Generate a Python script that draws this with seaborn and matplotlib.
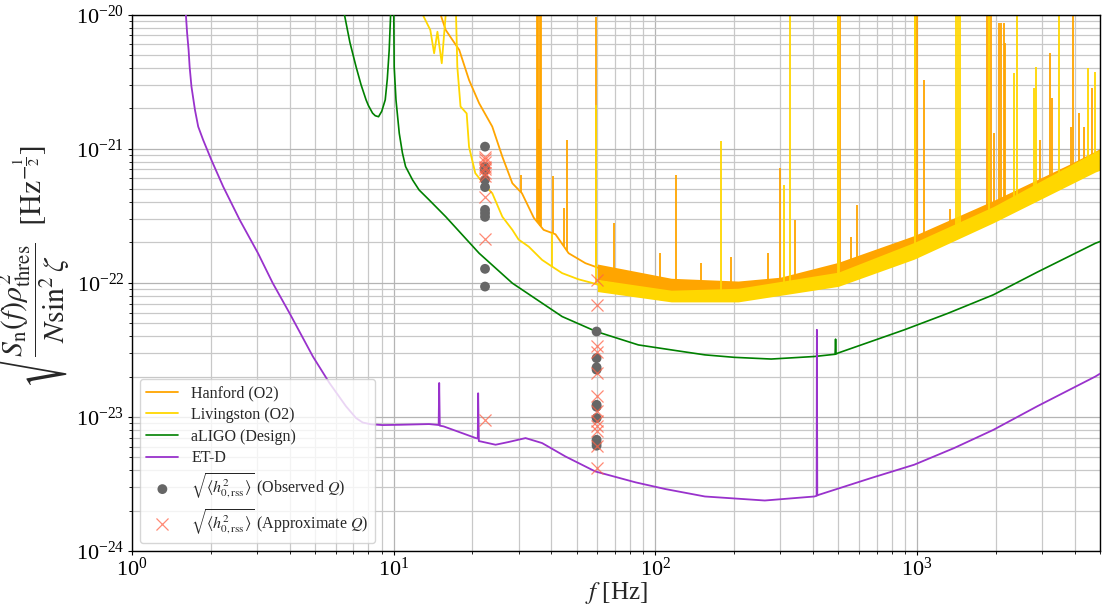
import numpy as np
import pandas as pd
import matplotlib
matplotlib.use("Agg")
import matplotlib.pyplot as plt
import seaborn as sns
from matplotlib.ticker import LogLocator, NullFormatter

# ---------------- data ----------------
# Hanford (O2)
han_f = [14.0, 15.1, 15.8, 17.8, 19.4, 21.2, 23.8, 26.0, 28.4, 30.9, 34.3, 37.4, 41.5, 46.6,
         54.0, 60.0, 68.2, 91.3, 118.9, 207, 300, 500, 975, 1955, 3845, 4800, 5000]
han_h = [2.0e-20, 1.0e-20, 7.67e-21, 5.44e-21, 3.25e-21, 2.18e-21, 1.46e-21, 8.72e-22, 5.52e-22,
         4.65e-22, 3.05e-22, 2.48e-22, 2.3e-22, 1.66e-22, 1.4e-22, 1.3e-22, 1.18e-22, 1.05e-22,
         9.7e-23, 9.4e-23, 1.01e-22, 1.29e-22, 2.06e-22, 3.78e-22, 7.07e-22, 8.7e-22, 9.0e-22]
han_band_f = [60, 115, 207, 300, 500, 975, 1955, 3845, 4800, 5000]
han_band_lo = [1.05e-22, 8.6e-23, 8.4e-23, 9.2e-23, 1.15e-22, 1.85e-22, 3.4e-22, 6.4e-22, 7.8e-22, 8.1e-22]
han_band_hi = [1.38e-22, 1.08e-22, 1.03e-22, 1.1e-22, 1.42e-22, 2.25e-22, 4.1e-22, 7.7e-22, 9.6e-22, 1.0e-21]
han_spk_f = [30.7, 35.3, 35.5, 35.9, 36.3, 36.5, 40.5, 44.6, 45.9, 59.5, 69.3, 104, 119.5, 150,
             194, 269, 299, 343, 500, 504, 508, 560, 588, 985, 995, 1059, 1337, 1855, 1885,
             1915, 1970, 2050, 2100, 2150, 2170, 2950, 3225, 3275, 3880, 3930, 4170, 4340, 4660]
han_spk_h = [6.4e-22, 2e-20, 2e-20, 1.4e-21, 2e-20, 2e-20, 6.3e-22, 3.6e-22, 1.16e-21, 9.6e-21,
             2.8e-22, 1.66e-22, 6.4e-22, 1.4e-22, 1.56e-22, 1.66e-22, 7.15e-22, 2.95e-22, 2e-20,
             2e-20, 2e-20, 2.2e-22, 3.8e-22, 2e-20, 2e-20, 3.25e-21, 3.56e-22, 2e-20, 2e-20,
             2e-20, 1.31e-21, 8.6e-21, 8.6e-21, 8.6e-21, 6.1e-21, 1.16e-21, 5.13e-21, 2.38e-21,
             1.46e-21, 2e-20, 1.85e-21, 1.46e-21, 2.83e-21]

# Livingston (O2)
liv_f = [12.5, 12.9, 13.8, 14.27, 14.69, 15.26, 15.8, 16.5, 17.3, 17.5, 18.0, 19.0, 19.4, 20.5,
         22.5, 23.8, 26.0, 28.4, 30.0, 32.8, 36.9, 40.3, 44.0, 50.9, 57.0, 68.0, 91.0, 122, 164,
         207, 300, 500, 975, 1955, 2878, 3845, 4800, 5000]
liv_h = [2.0e-20, 1.0e-20, 7.66e-21, 5.14e-21, 7.44e-21, 4.33e-21, 1.0e-20, 1.6e-20, 1.0e-20,
         4.08e-21, 2.06e-21, 1.83e-21, 1.03e-21, 6.56e-22, 5.21e-22, 4.65e-22, 3.11e-22, 2.48e-22,
         2.1e-22, 1.86e-22, 1.48e-22, 1.32e-22, 1.18e-22, 1.06e-22, 1.0e-22, 9.0e-23, 8.4e-23,
         7.9e-23, 7.8e-23, 8.1e-23, 8.5e-23, 1.06e-22, 1.73e-22, 3.2e-22, 4.9e-22, 6.4e-22,
         8.1e-22, 8.4e-22]
liv_band_f = [60, 115, 207, 500, 975, 1955, 4800, 5000]
liv_band_lo = [8.6e-23, 7.2e-23, 7.2e-23, 9.4e-23, 1.5e-22, 2.8e-22, 6.7e-22, 6.9e-22]
liv_band_hi = [1.06e-22, 8.8e-23, 9.1e-23, 1.2e-22, 2.0e-22, 3.7e-22, 9.5e-22, 9.8e-22]
liv_spk_f = [40.3, 59.5, 178, 310, 327, 500, 503, 985, 1410, 1435, 1460, 1885, 2350, 2400,
             2790, 2850, 3470, 4500, 4800]
liv_spk_h = [2.35e-22, 2.1e-21, 1.15e-21, 5.36e-22, 2e-20, 2e-20, 2e-20, 2e-20, 2e-20, 2e-20,
             2e-20, 2e-20, 3.66e-21, 2e-20, 2.83e-21, 4.08e-21, 2e-20, 3.97e-21, 3.75e-21]

# aLIGO (Design)
ali_f = [6.3, 6.48, 6.8, 7.18, 7.5, 7.84, 8.0, 8.3, 8.5, 8.75, 9.0, 9.28, 9.45, 9.61, 9.75, 9.9,
         9.96, 10.04, 10.2, 10.5, 10.8, 11.1, 11.8, 12.5, 13.65, 15.8, 21.2, 28.4, 44.0, 59.4,
         86.1, 120, 154.6, 200, 277, 405, 486, 488, 490, 498, 667, 894, 1306, 1955, 2878,
         4800, 5000]
ali_h = [1.3e-20, 1.0e-20, 6.2e-21, 4.08e-21, 3.0e-21, 2.31e-21, 2.1e-21, 1.84e-21, 1.76e-21,
         1.73e-21, 1.9e-21, 2.31e-21, 3.3e-21, 5.44e-21, 1.1e-20, 3.0e-20, 3.0e-20, 4.08e-21,
         2.31e-21, 1.3e-21, 9.25e-22, 7.35e-22, 5.85e-22, 4.92e-22, 4.15e-22, 3.11e-22,
         1.66e-22, 9.93e-23, 5.6e-23, 4.33e-23, 3.44e-23, 3.12e-23, 2.9e-23, 2.78e-23, 2.7e-23,
         2.82e-23, 2.93e-23, 3.8e-23, 2.94e-23, 2.99e-23, 3.65e-23, 4.46e-23, 5.9e-23,
         8.13e-23, 1.2e-22, 1.97e-22, 2.03e-22]

# ET-D
etd_f = [1.55, 1.606, 1.624, 1.645, 1.66, 1.687, 1.74, 1.79, 1.87, 2.01, 2.23, 2.58, 3.03, 3.45,
         4.0, 4.91, 5.68, 6.57, 7.18, 7.61, 8.2, 9.07, 10.5, 13.65, 14.85, 14.92, 15.0, 15.5,
         20.6, 20.95, 21.02, 21.15, 21.5, 24.5, 27.5, 31.9, 36.9, 45.3, 58.9, 84.0, 108.9,
         154.6, 261.8, 405, 413, 414, 415.5, 420, 667, 975, 1386, 1955, 2878, 4800, 5000]
etd_h = [1.4e-20, 1.0e-20, 7.24e-21, 5.44e-21, 4.08e-21, 2.9e-21, 1.94e-21, 1.46e-21, 1.16e-21,
         8.24e-22, 5.21e-22, 2.94e-22, 1.66e-22, 9.93e-23, 5.93e-23, 2.82e-23, 1.79e-23, 1.2e-23,
         9.8e-24, 9.08e-24, 8.8e-24, 8.69e-24, 8.73e-24, 8.84e-24, 8.7e-24, 1.79e-23, 8.6e-24,
         8.5e-24, 6.95e-24, 6.9e-24, 1.5e-23, 6.6e-24, 6.56e-24, 6.2e-24, 6.5e-24, 6.95e-24,
         6.38e-24, 5.07e-24, 3.92e-24, 3.25e-24, 2.9e-24, 2.55e-24, 2.38e-24, 2.55e-24,
         2.58e-24, 4.46e-23, 2.6e-24, 2.62e-24, 3.5e-24, 4.4e-24, 5.86e-24, 8.0e-24, 1.2e-23,
         2.0e-23, 2.1e-23]

# sqrt<h0,rss^2> points
obs_f = [22.33] * 10 + [59.6] * 10
obs_h = [1.035e-21, 7.3e-22, 6.9e-22, 5.85e-22, 5.17e-22, 3.5e-22, 3.3e-22, 3.1e-22, 1.27e-22,
         9.37e-23,
         4.33e-23, 2.74e-23, 2.34e-23, 2.25e-23, 1.23e-23, 1.19e-23, 9.8e-24, 6.75e-24, 6.4e-24,
         6.1e-24]
apx_f = [22.33] * 10 + [59.6] * 12
apx_h = [8.7e-22, 8.3e-22, 8.0e-22, 7.3e-22, 7.0e-22, 6.56e-22, 6.2e-22, 4.34e-22, 2.11e-22,
         9.4e-24,
         1.05e-22, 6.85e-23, 3.35e-23, 3.07e-23, 2.12e-23, 1.42e-23, 1.1e-23, 9.24e-24, 8.48e-24,
         7.8e-24, 6.03e-24, 4.15e-24]

x_ticks = [1, 10, 100, 1000]
y_ticks = [1e-24, 1e-23, 1e-22, 1e-21, 1e-20]

# ---------------- style ----------------
sns.set_style("whitegrid")
plt.rcParams["font.family"] = ["Liberation Serif", "DejaVu Serif"]
plt.rcParams["mathtext.fontset"] = "stix"

C_HAN = "#FFA500"
C_LIV = "#FFD700"
C_ALI = "#008000"
C_ETD = "#9932CC"

fig = plt.figure(figsize=(11.03, 6.10), dpi=100)
ax = fig.add_axes([0.1197, 0.0967, 0.8776, 0.8795])
ax.set_xscale("log")
ax.set_yscale("log")


def log_interp(fq, xs, ys):
    return 10 ** np.interp(np.log10(fq), np.log10(xs), np.log10(ys))


# Hanford
ax.fill_between(han_band_f, han_band_lo, han_band_hi, color=C_HAN, lw=0, zorder=2)
sns.lineplot(x=han_f, y=han_h, ax=ax, color=C_HAN, lw=1.3, label="Hanford (O2)",
             estimator=None, sort=False, zorder=2)
ax.vlines(han_spk_f, log_interp(han_spk_f, han_f, han_h), han_spk_h, colors=C_HAN, lw=1.3,
          zorder=2)

# Livingston
ax.fill_between(liv_band_f, liv_band_lo, liv_band_hi, color=C_LIV, lw=0, zorder=2.2)
sns.lineplot(x=liv_f, y=liv_h, ax=ax, color=C_LIV, lw=1.3, label="Livingston (O2)",
             estimator=None, sort=False, zorder=2.2)
ax.vlines(liv_spk_f, log_interp(liv_spk_f, liv_f, liv_h), liv_spk_h, colors=C_LIV, lw=1.3,
          zorder=2.2)

# aLIGO
sns.lineplot(x=ali_f, y=ali_h, ax=ax, color=C_ALI, lw=1.2, label="aLIGO (Design)",
             estimator=None, sort=False, zorder=3)
# ET-D
sns.lineplot(x=etd_f, y=etd_h, ax=ax, color=C_ETD, lw=1.3, label="ET-D",
             estimator=None, sort=False, zorder=3.1)

# points
sns.scatterplot(x=obs_f, y=obs_h, ax=ax, color="#666666", s=50, edgecolor="none", zorder=4,
                label=r"$\sqrt{\langle h_{0,\mathrm{rss}}^2\rangle}$ (Observed $Q$)")
sns.scatterplot(x=apx_f, y=apx_h, ax=ax, color="tomato", marker="x", s=75, linewidth=0.9,
                alpha=0.75, zorder=4.1,
                label=r"$\sqrt{\langle h_{0,\mathrm{rss}}^2\rangle}$ (Approximate $Q$)")

ax.set_xlim(1, 5000)
ax.set_ylim(1e-24, 1e-20)
ax.set_xticks(x_ticks)
ax.set_yticks(y_ticks)
ax.xaxis.set_minor_locator(LogLocator(base=10, subs=np.arange(2, 10), numticks=100))
ax.yaxis.set_minor_locator(LogLocator(base=10, subs=np.arange(2, 10), numticks=100))
ax.xaxis.set_minor_formatter(NullFormatter())
ax.yaxis.set_minor_formatter(NullFormatter())

ax.grid(True, which="major", color="#b4b4b4", lw=0.9)
ax.grid(True, which="minor", color="#c8c8c8", lw=0.9)
ax.set_axisbelow(True)

ax.tick_params(which="both", direction="out", left=True, bottom=True, colors="black",
               labelsize=16, pad=1.5)
ax.tick_params(axis="y", which="major", pad=2.5)
ax.tick_params(which="major", length=3, width=0.8)
ax.tick_params(which="minor", length=2, width=0.6)
for sp in ax.spines.values():
    sp.set_color("black")
    sp.set_linewidth(1.0)

ax.set_xlabel(r"$f$ [Hz]", fontsize=18, labelpad=0)
ax.set_ylabel(r"$\sqrt{\dfrac{S_{\rm n}(f)\rho_{\rm thres}^2}{N\sin^2\zeta}}\;\;[{\rm Hz}^{-\frac{1}{2}}]$",
              fontsize=21.5)
ax.yaxis.set_label_coords(-0.062, 0.53)

leg = ax.legend(loc="lower left", fontsize=11.5, framealpha=0.8, labelspacing=0.35)
leg.set_zorder(10)

fig.savefig("out.png", dpi=100)
